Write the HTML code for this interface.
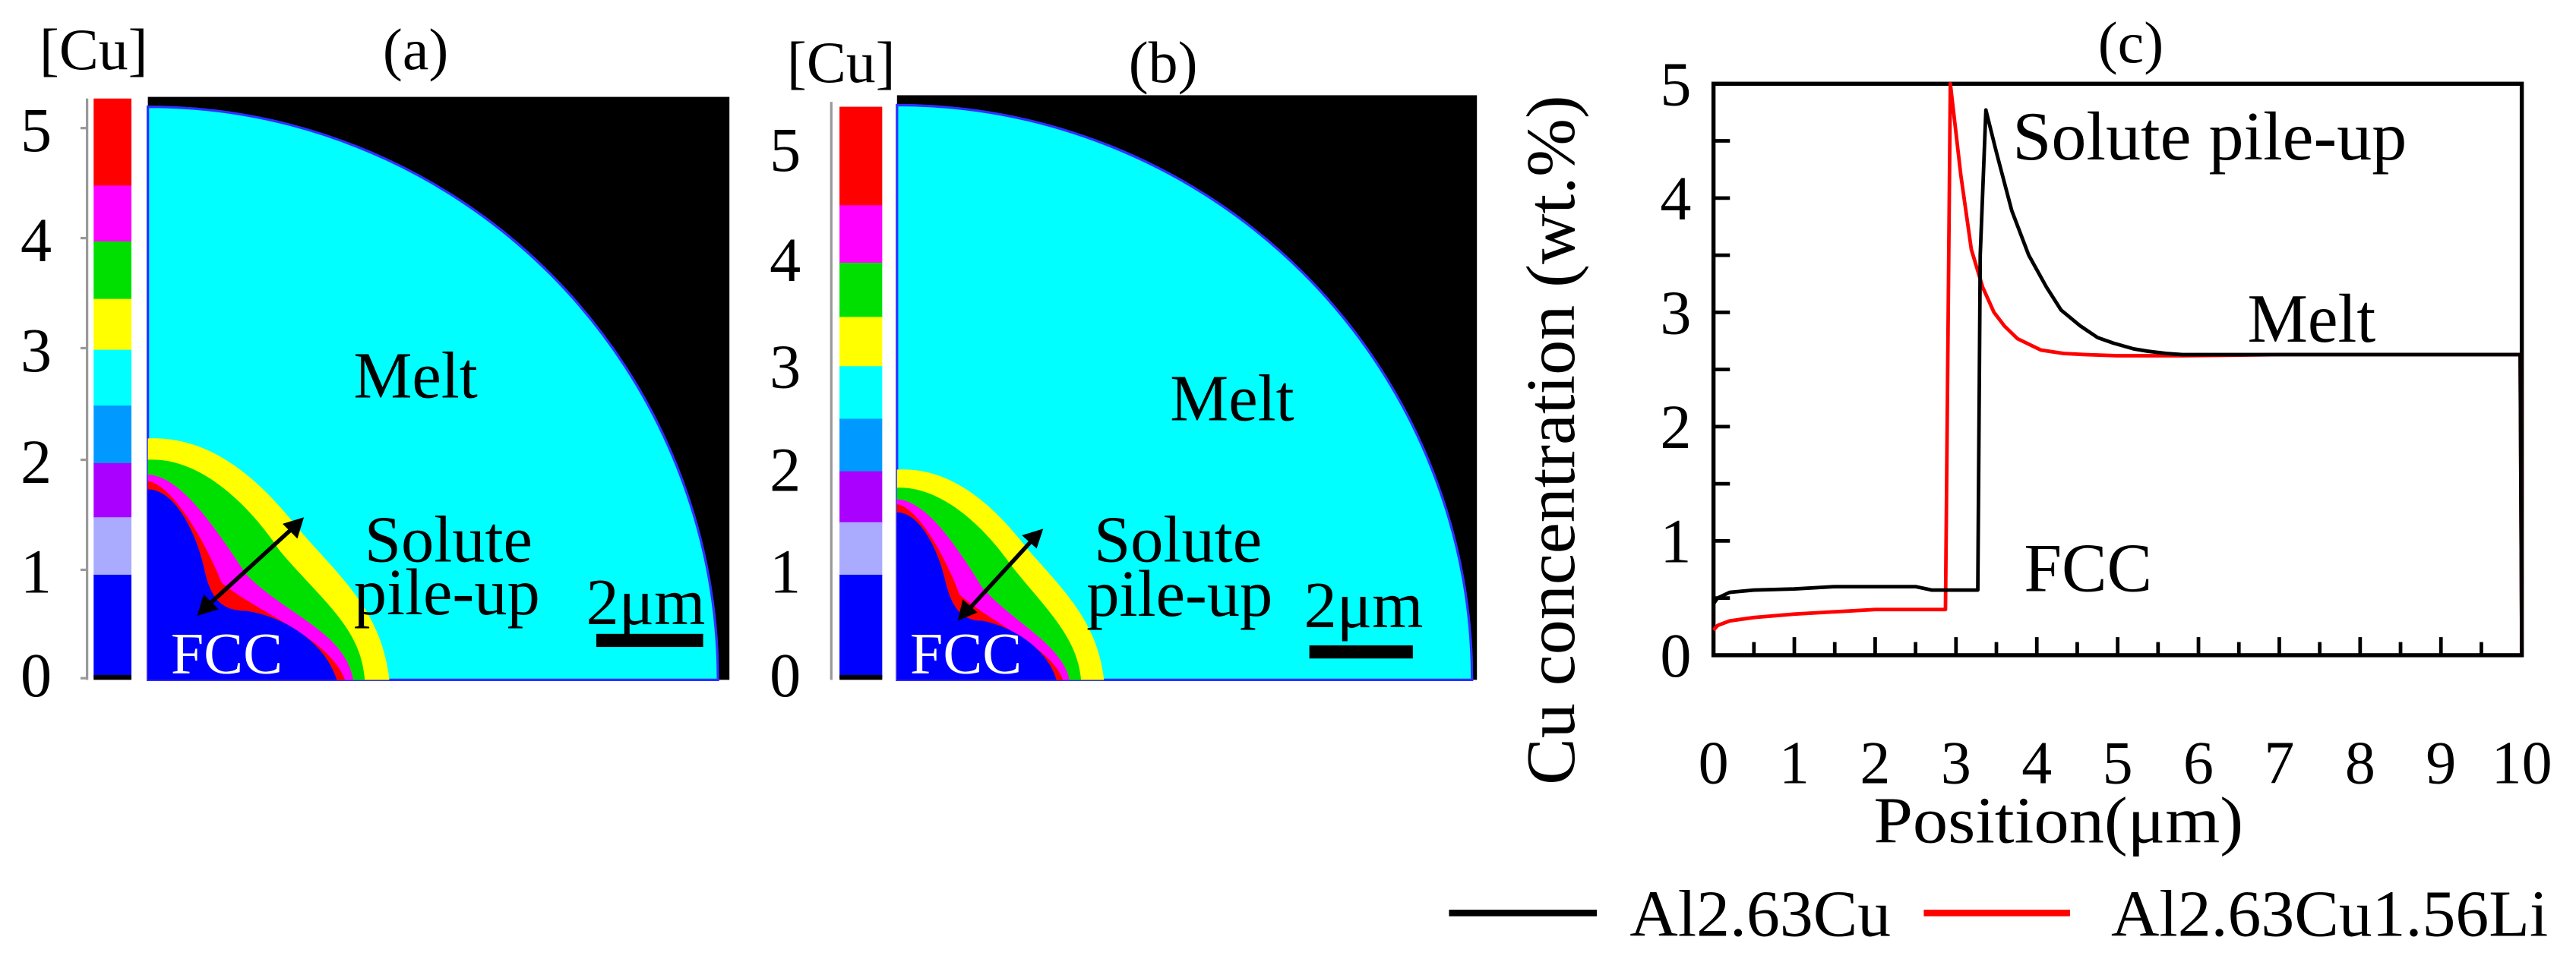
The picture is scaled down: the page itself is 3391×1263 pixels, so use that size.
<!DOCTYPE html>
<html><head><meta charset="utf-8"><style>
html,body{margin:0;padding:0;background:#fff;}
svg{display:block;}
text{font-family:"Liberation Serif",serif;fill:#000;}
</style></head><body>
<svg id="fig" width="3391" height="1263" viewBox="0 0 1568 584" preserveAspectRatio="none" xmlns="http://www.w3.org/2000/svg">
<rect x="0" y="0" width="1568" height="584" fill="#fff"/>

<!-- Panel a -->
<g>
  <text x="57" y="42" font-size="36" text-anchor="middle">[Cu]</text>
  <text x="253" y="42" font-size="36" text-anchor="middle">(a)</text>
  <g>
    <rect x="57" y="60" width="23" height="54" fill="#ff0000"/>
    <rect x="57" y="113" width="23" height="35" fill="#ff00ff"/>
    <rect x="57" y="147" width="23" height="36" fill="#00e000"/>
    <rect x="57" y="182" width="23" height="32" fill="#ffff00"/>
    <rect x="57" y="213" width="23" height="35" fill="#00ffff"/>
    <rect x="57" y="247" width="23" height="36" fill="#0099ff"/>
    <rect x="57" y="282" width="23" height="34" fill="#aa00ff"/>
    <rect x="57" y="315" width="23" height="36" fill="#aaaaff"/>
    <rect x="57" y="350" width="23" height="63" fill="#0000ff"/>
    <rect x="57" y="411" width="23" height="3" fill="#000"/>
    <line x1="53" y1="60" x2="53" y2="414" stroke="#999" stroke-width="1.5"/>
    <g stroke="#999" stroke-width="1.5">
      <line x1="49" y1="78" x2="53" y2="78"/><line x1="49" y1="145" x2="53" y2="145"/>
      <line x1="49" y1="212" x2="53" y2="212"/><line x1="49" y1="280" x2="53" y2="280"/>
      <line x1="49" y1="347" x2="53" y2="347"/><line x1="49" y1="413" x2="53" y2="413"/>
    </g>
    <g font-size="38" text-anchor="middle">
      <text x="22" y="92">5</text><text x="22" y="159">4</text><text x="22" y="226">3</text>
      <text x="22" y="294">2</text><text x="22" y="361">1</text><text x="22" y="424">0</text>
    </g>
  </g>
  <g>
    <rect x="90" y="59" width="354" height="355" fill="#000"/>
    <path d="M90,414 L90,65 A347,349 0 0 1 437,414 Z" fill="#00ffff" stroke="#3030ff" stroke-width="1.5"/>
    <path d="M90,414 L90,267 C130,265 160,295 180,320 C205,350 232,370 237,414 Z" fill="#ffff00"/>
    <path d="M90,414 L90,280 C120,278 150,305 170,335 C195,365 220,382 222,414 Z" fill="#00e000"/>
    <path d="M90,414 L90,289 C110,290 130,320 150,350 C175,375 210,385 215,414 Z" fill="#ff00ff"/>
    <path d="M90,414 L90,293 C105,295 125,330 135,355 C160,375 200,388 210,414 Z" fill="#ff0000"/>
    <path d="M90,414 L90,298 C105,298 118,320 124,345 C128,365 135,372 150,372 C175,376 198,392 205,414 Z" fill="#0000ff"/>
    <text x="253" y="242" font-size="40" text-anchor="middle">Melt</text>
    <text x="273" y="342" font-size="40" text-anchor="middle">Solute</text>
    <text x="272" y="374" font-size="40" text-anchor="middle">pile-up</text>
    <text x="393" y="380" font-size="40" text-anchor="middle">2μm</text>
    <rect x="363" y="386" width="65" height="8" fill="#000"/>
    <text x="138" y="410" font-size="36" text-anchor="middle" style="fill:#fff">FCC</text>
    <line x1="124" y1="371" x2="181" y2="319" stroke="#000" stroke-width="2.5"/>
    <polygon points="120,375 124,362 133,371" fill="#000"/>
    <polygon points="185,315 172,319 181,328" fill="#000"/>
  </g>
</g>

<!-- Panel b -->
<g>
  <text x="512" y="50" font-size="36" text-anchor="middle">[Cu]</text>
  <text x="708" y="50" font-size="36" text-anchor="middle">(b)</text>
  <g>
    <rect x="511" y="65" width="26" height="61" fill="#ff0000"/>
    <rect x="511" y="125" width="26" height="36" fill="#ff00ff"/>
    <rect x="511" y="160" width="26" height="34" fill="#00e000"/>
    <rect x="511" y="193" width="26" height="31" fill="#ffff00"/>
    <rect x="511" y="223" width="26" height="33" fill="#00ffff"/>
    <rect x="511" y="255" width="26" height="33" fill="#0099ff"/>
    <rect x="511" y="287" width="26" height="32" fill="#aa00ff"/>
    <rect x="511" y="318" width="26" height="33" fill="#aaaaff"/>
    <rect x="511" y="350" width="26" height="63" fill="#0000ff"/>
    <rect x="511" y="411" width="26" height="3" fill="#000"/>
    <line x1="506" y1="62" x2="506" y2="414" stroke="#999" stroke-width="1.5"/>
    <g font-size="38" text-anchor="middle">
      <text x="478" y="104">5</text><text x="478" y="171">4</text><text x="478" y="236">3</text>
      <text x="478" y="299">2</text><text x="478" y="361">1</text><text x="478" y="424">0</text>
    </g>
  </g>
  <g>
    <rect x="546" y="58" width="353" height="356" fill="#000"/>
    <path d="M546,414 L546,64 A350,350 0 0 1 896,414 Z" fill="#00ffff" stroke="#3030ff" stroke-width="1.5"/>
    <path d="M546,414 L546,286 C582,284 608,312 626,335 C650,362 668,380 672,414 Z" fill="#ffff00"/>
    <path d="M546,414 L546,297 C574,296 600,322 616,345 C636,370 656,388 658,414 Z" fill="#00e000"/>
    <path d="M546,414 L546,304 C564,305 582,332 598,358 C618,380 646,392 651,414 Z" fill="#ff00ff"/>
    <path d="M546,414 L546,307 C559,309 576,340 584,362 C604,380 640,394 647,414 Z" fill="#ff0000"/>
    <path d="M546,414 L546,312 C559,312 570,332 575,352 C579,370 585,378 598,378 C618,382 638,396 643,414 Z" fill="#0000ff"/>
    <text x="750" y="256" font-size="40" text-anchor="middle">Melt</text>
    <text x="717" y="342" font-size="40" text-anchor="middle">Solute</text>
    <text x="718" y="375" font-size="40" text-anchor="middle">pile-up</text>
    <text x="830" y="382" font-size="40" text-anchor="middle">2μm</text>
    <rect x="797" y="393" width="63" height="8" fill="#000"/>
    <text x="588" y="410" font-size="36" text-anchor="middle" style="fill:#fff">FCC</text>
    <line x1="587" y1="374" x2="631" y2="326" stroke="#000" stroke-width="2.5"/>
    <polygon points="583,378 586,365 595,373" fill="#000"/>
    <polygon points="635,322 622,326 631,334" fill="#000"/>
  </g>
</g>

<!-- Panel c -->
<g id="chart">
  <text x="1297" y="38" font-size="36" text-anchor="middle">(c)</text>
  <text x="0" y="0" font-size="42" text-anchor="middle" textLength="420" lengthAdjust="spacingAndGlyphs" transform="translate(958,268) rotate(-90)">Cu concentration (wt.%)</text>
  <text x="1253" y="513" font-size="40" text-anchor="middle" textLength="225" lengthAdjust="spacingAndGlyphs">Position(μm)</text>
  <g>
    <g>
      <line x1="882" y1="556" x2="972" y2="556" stroke="#000" stroke-width="4"/>
      <text x="992" y="570" font-size="40" textLength="159" lengthAdjust="spacingAndGlyphs">Al2.63Cu</text>
    </g>
    <g>
      <line x1="1171" y1="556" x2="1260" y2="556" stroke="#ff0000" stroke-width="4"/>
      <text x="1285" y="570" font-size="40" textLength="266" lengthAdjust="spacingAndGlyphs">Al2.63Cu1.56Li</text>
    </g>
  </g>
</g>
</svg>
<script>
const xTicks = [0,1,2,3,4,5,6,7,8,9,10];
const yTicks = [0,1,2,3,4,5];
const blackX = [0,0.05,0.2,0.5,1,1.5,2,2.5,2.7,3.0,3.27,3.3,3.37,3.5,3.69,3.9,4.12,4.3,4.54,4.75,4.95,5.2,5.37,5.6,5.8,7,9,9.98,10];
const blackY = [0.45,0.5,0.55,0.57,0.58,0.6,0.6,0.6,0.57,0.57,0.57,3.5,4.77,4.4,3.89,3.5,3.22,3.02,2.88,2.78,2.73,2.68,2.66,2.64,2.63,2.63,2.63,2.63,0];
const redX = [0,0.05,0.2,0.5,1,1.5,2,2.5,2.87,2.93,3.06,3.19,3.33,3.47,3.6,3.76,4.05,4.33,4.6,5,5.4,5.8,7,9,9.98,10];
const redY = [0.22,0.26,0.3,0.33,0.36,0.38,0.4,0.4,0.4,5.0,4.2,3.55,3.22,3.0,2.88,2.77,2.67,2.64,2.63,2.62,2.62,2.62,2.63,2.63,2.63,0];

const NS = 'http://www.w3.org/2000/svg';
const chart = document.getElementById('chart');
const L = 1043, R = 1535, T = 51, B = 399;
const sx = v => L + (v - 0) / 10 * (R - L);
const sy = v => B - (v - 0) / 5 * (B - T);

function mk(tag, attrs){ const e = document.createElementNS(NS, tag); for (const k in attrs) e.setAttribute(k, attrs[k]); return e; }

const frame = mk('rect', {x:L, y:T, width:R-L, height:B-T, fill:'none', stroke:'#000', 'stroke-width':2.5});


chart.appendChild(frame);

const ticks = mk('g', {stroke:'#000', 'stroke-width':2.2});


for (let v = 0; v <= 10.001; v += 0.5) {
  const major = Math.abs(v - Math.round(v)) < 1e-6;
  ticks.appendChild(mk('line', {x1:sx(v), y1:B, x2:sx(v), y2:B - (major ? 11 : 8)}));
}
for (let v = 0; v <= 5.001; v += 0.5) {
  ticks.appendChild(mk('line', {x1:L, y1:sy(v), x2:L + 10, y2:sy(v)}));
}
chart.appendChild(ticks);

xTicks.forEach(t => {
  const tx = mk('text', {x:sx(t), y:477, 'font-size':37, 'text-anchor':'middle'});
  tx.textContent = t;
  
  
  chart.appendChild(tx);
});
yTicks.forEach(t => {
  const tx = mk('text', {x:1020, y:sy(t) + 13, 'font-size':38, 'text-anchor':'middle'});
  tx.textContent = t;
  
  
  chart.appendChild(tx);
});

function series(xs, ys, color, name){
  const d = xs.map((x,i) => (i ? 'L' : 'M') + sx(x).toFixed(2) + ',' + sy(ys[i]).toFixed(2)).join(' ');
  const p = mk('path', {d:d, fill:'none', stroke:color, 'stroke-width':2.2, 'stroke-linejoin':'round'});
  
  
  chart.appendChild(p);
}
series(redX, redY, '#ff0000', 'series-al263cu156li');
series(blackX, blackY, '#000', 'series-al263cu');

const ann = [['Solute pile-up',1345,97,240],['Melt',1407,208,78],['FCC',1271,360,78]];
ann.forEach(a => {
  const tx = mk('text', {x:a[1], y:a[2], 'font-size':42, 'text-anchor':'middle', textLength:a[3], lengthAdjust:'spacingAndGlyphs'});
  tx.textContent = a[0];
  
  
  chart.appendChild(tx);
});
</script>
</body></html>
